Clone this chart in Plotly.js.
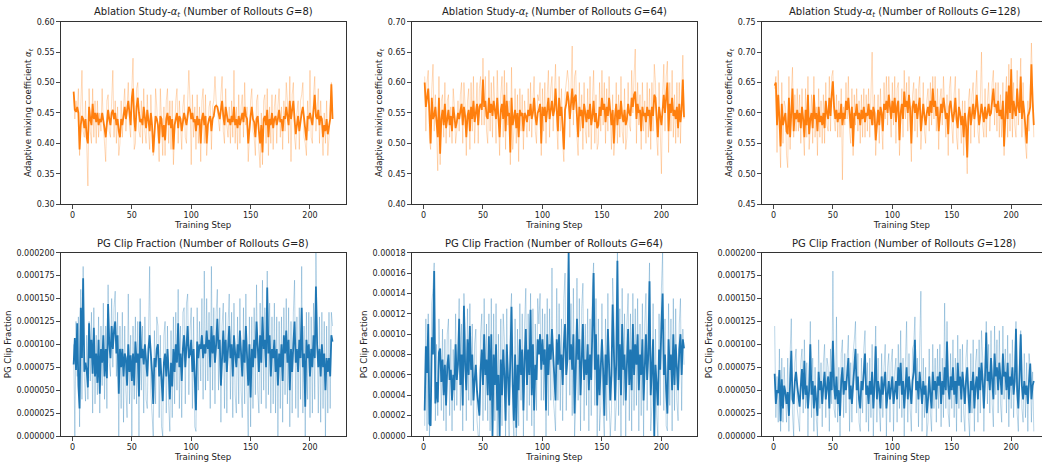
<!DOCTYPE html>
<html><head><meta charset="utf-8">
<script src="https://cdn.plot.ly/plotly-3.0.1.min.js"></script>
<style>html,body{margin:0;padding:0;background:#fff}#chart{width:1042px;height:464px}</style>
</head><body><div id="chart"></div><script>
// ---------- data (Training Step starts at 1) ----------
const xTickVals = [0, 50, 100, 150, 200];

const alphaG8_smooth = [0.485,0.455,0.452,0.46,0.45,0.39,0.43,0.445,0.44,0.425,0.44,0.41,0.40,0.46,0.44,0.43,0.465,0.44,0.45,0.435,
0.45,0.43,0.44,0.435,0.45,0.44,0.425,0.41,0.44,0.455,0.44,0.43,0.45,0.455,0.44,0.45,0.43,0.44,0.42,0.41,
0.44,0.43,0.445,0.46,0.44,0.455,0.47,0.45,0.43,0.475,0.49,0.44,0.42,0.46,0.475,0.45,0.435,0.44,0.43,0.46,
0.44,0.425,0.455,0.44,0.42,0.45,0.43,0.385,0.41,0.445,0.44,0.43,0.40,0.445,0.44,0.41,0.43,0.405,0.44,0.45,
0.43,0.445,0.425,0.44,0.39,0.43,0.44,0.45,0.425,0.445,0.44,0.42,0.435,0.45,0.44,0.43,0.445,0.46,0.455,0.44,
0.45,0.435,0.44,0.42,0.445,0.43,0.44,0.40,0.44,0.45,0.43,0.445,0.40,0.43,0.44,0.445,0.42,0.44,0.445,0.46,
0.462,0.46,0.45,0.44,0.455,0.47,0.445,0.43,0.46,0.445,0.435,0.44,0.43,0.445,0.435,0.46,0.43,0.44,0.425,0.445,
0.43,0.44,0.45,0.435,0.46,0.445,0.44,0.40,0.43,0.445,0.46,0.44,0.435,0.41,0.44,0.445,0.42,0.40,0.43,0.385,
0.44,0.445,0.43,0.455,0.41,0.44,0.43,0.45,0.425,0.44,0.445,0.43,0.44,0.455,0.435,0.44,0.42,0.445,0.44,0.46,
0.445,0.43,0.47,0.44,0.455,0.47,0.44,0.415,0.43,0.445,0.42,0.44,0.45,0.46,0.44,0.43,0.405,0.445,0.44,0.45,
0.44,0.43,0.455,0.48,0.445,0.44,0.455,0.43,0.445,0.44,0.41,0.43,0.42,0.44,0.415,0.425,0.44,0.497,0.44];

const alphaG8_raw = [0.48,0.44,0.47,0.45,0.49,0.38,0.46,0.52,0.42,0.41,0.47,0.39,0.33,0.49,0.42,0.40,0.49,0.41,0.47,0.40,
0.47,0.41,0.45,0.42,0.49,0.43,0.40,0.37,0.47,0.48,0.42,0.41,0.47,0.52,0.41,0.47,0.40,0.46,0.38,0.40,
0.47,0.41,0.46,0.49,0.42,0.47,0.50,0.43,0.41,0.49,0.54,0.39,0.40,0.49,0.50,0.42,0.41,0.47,0.40,0.49,
0.42,0.40,0.48,0.42,0.39,0.48,0.41,0.38,0.39,0.49,0.46,0.40,0.37,0.49,0.42,0.38,0.46,0.38,0.47,0.49,
0.40,0.47,0.39,0.47,0.365,0.42,0.47,0.49,0.40,0.47,0.42,0.39,0.46,0.48,0.41,0.40,0.47,0.52,0.47,0.365,
0.48,0.41,0.46,0.39,0.48,0.40,0.46,0.37,0.47,0.49,0.40,0.48,0.38,0.41,0.46,0.47,0.39,0.46,0.47,0.51,
0.47,0.45,0.43,0.42,0.48,0.51,0.42,0.40,0.49,0.43,0.41,0.46,0.40,0.47,0.41,0.52,0.40,0.46,0.39,0.48,
0.40,0.46,0.48,0.41,0.50,0.43,0.46,0.37,0.41,0.47,0.49,0.42,0.41,0.38,0.47,0.48,0.39,0.36,0.45,0.365,
0.47,0.48,0.40,0.49,0.38,0.46,0.40,0.48,0.39,0.46,0.48,0.40,0.46,0.49,0.41,0.46,0.39,0.47,0.42,0.50,
0.47,0.40,0.51,0.37,0.48,0.50,0.41,0.39,0.45,0.47,0.39,0.47,0.48,0.50,0.41,0.40,0.38,0.47,0.42,0.52,
0.41,0.40,0.48,0.51,0.42,0.46,0.49,0.40,0.47,0.42,0.38,0.45,0.40,0.47,0.38,0.41,0.46,0.50,0.44];

const alphaG64_smooth = [0.60,0.56,0.575,0.59,0.55,0.50,0.575,0.54,0.545,0.56,0.535,0.51,0.575,0.483,0.54,0.555,0.53,0.565,0.525,0.545,
0.555,0.53,0.545,0.52,0.56,0.545,0.525,0.535,0.55,0.54,0.55,0.565,0.53,0.56,0.545,0.51,0.545,0.555,0.52,0.56,
0.54,0.57,0.535,0.55,0.565,0.53,0.56,0.565,0.555,0.605,0.56,0.57,0.545,0.54,0.575,0.55,0.565,0.545,0.57,0.555,
0.54,0.575,0.545,0.51,0.555,0.565,0.54,0.58,0.52,0.57,0.545,0.55,0.485,0.575,0.53,0.54,0.555,0.525,0.55,0.51,
0.555,0.545,0.55,0.52,0.55,0.545,0.535,0.555,0.545,0.565,0.54,0.55,0.575,0.545,0.53,0.55,0.555,0.565,0.50,0.56,
0.545,0.56,0.535,0.555,0.575,0.54,0.56,0.57,0.545,0.555,0.59,0.56,0.52,0.575,0.545,0.56,0.53,0.49,0.555,0.565,
0.585,0.57,0.54,0.565,0.59,0.555,0.575,0.58,0.545,0.51,0.56,0.545,0.555,0.525,0.565,0.545,0.535,0.555,0.54,0.565,
0.53,0.545,0.57,0.535,0.55,0.525,0.53,0.56,0.545,0.575,0.555,0.565,0.535,0.56,0.545,0.575,0.55,0.53,0.555,0.50,
0.545,0.565,0.53,0.555,0.54,0.57,0.545,0.535,0.555,0.53,0.54,0.565,0.55,0.545,0.575,0.56,0.58,0.585,0.54,0.565,
0.55,0.555,0.52,0.56,0.545,0.55,0.535,0.56,0.545,0.555,0.52,0.56,0.545,0.58,0.575,0.55,0.51,0.56,0.545,0.53,
0.555,0.58,0.55,0.57,0.60,0.52,0.565,0.55,0.575,0.545,0.555,0.54,0.56,0.525,0.565,0.535,0.555,0.605,0.543];

const alphaG64_raw = [0.61,0.52,0.60,0.62,0.51,0.49,0.59,0.63,0.52,0.58,0.52,0.455,0.61,0.465,0.57,0.58,0.51,0.60,0.50,0.57,
0.58,0.51,0.56,0.50,0.59,0.56,0.50,0.52,0.57,0.52,0.58,0.60,0.50,0.60,0.56,0.48,0.57,0.59,0.49,0.60,
0.52,0.61,0.50,0.57,0.60,0.50,0.59,0.61,0.53,0.64,0.53,0.61,0.52,0.50,0.62,0.52,0.60,0.51,0.61,0.56,
0.50,0.62,0.52,0.48,0.58,0.61,0.51,0.62,0.49,0.60,0.53,0.57,0.465,0.625,0.49,0.52,0.59,0.50,0.58,0.47,
0.59,0.52,0.58,0.49,0.57,0.53,0.51,0.59,0.52,0.60,0.51,0.57,0.61,0.52,0.50,0.58,0.57,0.60,0.48,0.59,
0.52,0.60,0.50,0.58,0.62,0.51,0.59,0.61,0.52,0.58,0.63,0.53,0.49,0.61,0.52,0.59,0.50,0.47,0.58,0.60,
0.62,0.60,0.51,0.59,0.66,0.53,0.61,0.62,0.51,0.48,0.60,0.52,0.58,0.49,0.60,0.52,0.50,0.59,0.51,0.61,
0.49,0.57,0.62,0.50,0.58,0.49,0.50,0.60,0.52,0.62,0.53,0.60,0.50,0.59,0.52,0.61,0.53,0.49,0.58,0.48,
0.51,0.60,0.50,0.58,0.51,0.61,0.52,0.50,0.59,0.49,0.51,0.60,0.53,0.52,0.62,0.55,0.61,0.655,0.50,0.60,
0.53,0.58,0.49,0.60,0.52,0.57,0.50,0.60,0.51,0.59,0.49,0.60,0.52,0.63,0.60,0.51,0.48,0.60,0.52,0.45,
0.58,0.63,0.52,0.61,0.635,0.485,0.60,0.52,0.62,0.51,0.58,0.50,0.60,0.51,0.60,0.50,0.58,0.645,0.54];

const alphaG128_smooth = [0.645,0.65,0.58,0.63,0.59,0.545,0.615,0.58,0.59,0.60,0.57,0.565,0.625,0.56,0.60,0.64,0.57,0.60,0.59,0.605,
0.585,0.60,0.575,0.61,0.59,0.56,0.605,0.58,0.63,0.565,0.59,0.60,0.575,0.63,0.59,0.60,0.57,0.61,0.585,0.595,
0.58,0.60,0.575,0.62,0.60,0.59,0.625,0.595,0.63,0.652,0.61,0.59,0.605,0.585,0.60,0.59,0.615,0.58,0.60,0.59,
0.62,0.605,0.625,0.60,0.575,0.61,0.545,0.60,0.595,0.615,0.59,0.60,0.58,0.605,0.59,0.61,0.585,0.60,0.595,0.615,
0.59,0.605,0.58,0.61,0.60,0.555,0.59,0.605,0.58,0.61,0.60,0.57,0.615,0.605,0.62,0.60,0.63,0.61,0.59,0.62,
0.60,0.625,0.585,0.61,0.62,0.555,0.60,0.615,0.59,0.635,0.61,0.62,0.60,0.63,0.605,0.55,0.61,0.62,0.60,0.615,
0.59,0.61,0.625,0.57,0.60,0.615,0.595,0.58,0.60,0.61,0.595,0.62,0.60,0.64,0.61,0.62,0.595,0.61,0.57,0.60,
0.615,0.60,0.625,0.61,0.59,0.60,0.565,0.61,0.62,0.60,0.585,0.60,0.625,0.59,0.575,0.61,0.60,0.58,0.595,0.56,
0.60,0.58,0.527,0.595,0.61,0.58,0.60,0.615,0.59,0.605,0.63,0.60,0.58,0.595,0.615,0.60,0.585,0.61,0.59,0.60,
0.615,0.595,0.60,0.62,0.64,0.61,0.615,0.60,0.62,0.595,0.605,0.59,0.62,0.545,0.60,0.635,0.59,0.645,0.60,0.672,
0.59,0.62,0.605,0.595,0.64,0.61,0.60,0.66,0.59,0.62,0.60,0.57,0.55,0.595,0.60,0.61,0.68,0.62,0.58];

const alphaG128_raw = [0.64,0.66,0.535,0.67,0.57,0.51,0.65,0.55,0.62,0.61,0.53,0.51,0.66,0.54,0.63,0.675,0.56,0.63,0.57,0.64,
0.57,0.63,0.55,0.64,0.57,0.53,0.64,0.56,0.66,0.54,0.58,0.63,0.55,0.66,0.56,0.61,0.53,0.64,0.56,0.62,
0.55,0.63,0.55,0.65,0.58,0.57,0.66,0.57,0.66,0.67,0.59,0.57,0.63,0.56,0.62,0.56,0.64,0.49,0.61,0.58,
0.65,0.59,0.66,0.57,0.55,0.64,0.53,0.63,0.58,0.64,0.57,0.62,0.55,0.63,0.56,0.64,0.56,0.63,0.57,0.64,
0.56,0.63,0.70,0.58,0.63,0.53,0.58,0.63,0.55,0.64,0.58,0.54,0.65,0.59,0.66,0.58,0.66,0.59,0.56,0.65,
0.58,0.66,0.55,0.64,0.65,0.53,0.58,0.64,0.56,0.67,0.59,0.65,0.57,0.66,0.58,0.52,0.63,0.65,0.57,0.64,
0.56,0.64,0.66,0.54,0.58,0.65,0.57,0.55,0.62,0.64,0.57,0.65,0.58,0.66,0.59,0.66,0.57,0.64,0.54,0.62,
0.64,0.58,0.66,0.59,0.56,0.63,0.53,0.64,0.66,0.58,0.55,0.63,0.66,0.56,0.54,0.64,0.58,0.55,0.62,0.53,
0.62,0.55,0.50,0.62,0.64,0.55,0.63,0.65,0.56,0.63,0.67,0.57,0.55,0.62,0.70,0.58,0.56,0.64,0.56,0.62,
0.65,0.57,0.62,0.65,0.67,0.58,0.65,0.57,0.65,0.56,0.63,0.56,0.65,0.53,0.62,0.66,0.56,0.68,0.57,0.69,
0.56,0.65,0.58,0.56,0.67,0.58,0.62,0.69,0.56,0.65,0.57,0.54,0.525,0.62,0.57,0.64,0.715,0.64,0.56];

const clipG8_smooth = [7.8e-5,10.7e-5,7.2e-5,12.3e-5,5.5e-5,3.0e-5,14.0e-5,8.5e-5,17.2e-5,7.0e-5,8.0e-5,7.2e-5,5.3e-5,12.3e-5,8.5e-5,10.5e-5,6.8e-5,11.8e-5,6.5e-5,9.0e-5,
5.8e-5,10.5e-5,4.6e-5,9.5e-5,8.0e-5,11.0e-5,6.5e-5,9.5e-5,6.3e-5,14.4e-5,10.0e-5,8.5e-5,12.0e-5,9.5e-5,11.5e-5,12.5e-5,9.0e-5,11.0e-5,4.6e-5,9.5e-5,
7.5e-5,9.5e-5,6.5e-5,9.0e-5,8.5e-5,5.5e-5,10.0e-5,7.0e-5,8.8e-5,6.0e-5,9.0e-5,5.5e-5,10.3e-5,8.0e-5,9.0e-5,4.3e-5,12.5e-5,8.5e-5,9.5e-5,7.8e-5,
10.0e-5,8.0e-5,6.5e-5,9.5e-5,11.0e-5,9.0e-5,7.0e-5,3.5e-5,8.5e-5,7.5e-5,9.5e-5,10.0e-5,6.5e-5,8.5e-5,5.5e-5,3.8e-5,8.0e-5,9.0e-5,6.5e-5,9.5e-5,
7.0e-5,4.0e-5,8.0e-5,5.4e-5,9.5e-5,7.0e-5,10.0e-5,8.0e-5,12.3e-5,7.5e-5,9.0e-5,6.0e-5,9.5e-5,11.0e-5,7.5e-5,10.5e-5,12.0e-5,8.5e-5,9.0e-5,10.5e-5,
7.0e-5,9.5e-5,5.5e-5,2.8e-5,10.3e-5,8.5e-5,10.0e-5,9.5e-5,11.0e-5,8.5e-5,10.0e-5,9.0e-5,11.5e-5,9.5e-5,10.5e-5,7.5e-5,12.0e-5,9.0e-5,11.0e-5,8.0e-5,
10.0e-5,12.8e-5,9.5e-5,10.5e-5,5.5e-5,9.0e-5,11.5e-5,8.0e-5,10.5e-5,7.0e-5,9.5e-5,12.0e-5,8.5e-5,10.0e-5,6.5e-5,11.0e-5,9.0e-5,7.5e-5,10.0e-5,8.5e-5,
11.5e-5,9.0e-5,6.5e-5,10.5e-5,8.0e-5,12.0e-5,9.5e-5,5.5e-5,10.0e-5,4.2e-5,9.5e-5,7.5e-5,10.5e-5,8.5e-5,12.5e-5,9.0e-5,7.0e-5,11.0e-5,8.0e-5,13.0e-5,
9.5e-5,10.5e-5,7.5e-5,16.2e-5,9.0e-5,11.0e-5,6.5e-5,9.5e-5,8.5e-5,10.5e-5,7.0e-5,9.5e-5,5.5e-5,9.0e-5,7.5e-5,10.0e-5,6.0e-5,11.0e-5,9.0e-5,11.5e-5,
8.0e-5,10.5e-5,5.0e-5,9.5e-5,7.0e-5,10.0e-5,12.5e-5,8.0e-5,9.5e-5,7.0e-5,10.5e-5,8.5e-5,14.0e-5,7.5e-5,9.0e-5,3.2e-5,10.5e-5,8.5e-5,10.0e-5,6.5e-5,
9.5e-5,7.5e-5,11.0e-5,8.5e-5,16.3e-5,10.0e-5,7.5e-5,9.5e-5,6.5e-5,10.0e-5,7.5e-5,9.0e-5,5.0e-5,8.5e-5,7.0e-5,8.5e-5,6.5e-5,11.0e-5,10.3e-5];

const clipG8_raw = [10.0e-5,0,12.5e-5,6.5e-5,13.0e-5,1.0e-5,16.0e-5,4.0e-5,18.5e-5,6.5e-5,3.8e-5,11.0e-5,4.0e-5,12.5e-5,6.0e-5,13.5e-5,2.5e-5,14.0e-5,3.5e-5,11.0e-5,
4.5e-5,13.0e-5,2.5e-5,12.0e-5,5.5e-5,14.5e-5,4.0e-5,12.0e-5,3.0e-5,16.5e-5,8.0e-5,6.5e-5,15.0e-5,7.5e-5,14.0e-5,15.8e-5,6.5e-5,13.5e-5,0,12.0e-5,
3.0e-5,13.5e-5,1.5e-5,12.0e-5,5.0e-5,2.0e-5,15.5e-5,3.5e-5,11.0e-5,0,12.0e-5,4.0e-5,13.0e-5,3.5e-5,12.5e-5,0,15.0e-5,5.0e-5,12.0e-5,2.5e-5,
13.0e-5,4.0e-5,3.0e-5,12.0e-5,18.5e-5,5.0e-5,1.5e-5,0,11.5e-5,3.5e-5,13.0e-5,12.0e-5,2.0e-5,11.0e-5,1.0e-5,0,11.0e-5,12.5e-5,2.5e-5,12.0e-5,
3.5e-5,0.5e-5,11.5e-5,2.0e-5,13.0e-5,3.5e-5,13.5e-5,5.0e-5,16.0e-5,3.0e-5,12.0e-5,2.0e-5,13.5e-5,14.0e-5,3.5e-5,14.5e-5,15.5e-5,4.5e-5,11.5e-5,14.0e-5,
3.0e-5,13.0e-5,1.0e-5,0.5e-5,14.0e-5,5.0e-5,12.5e-5,6.0e-5,15.0e-5,4.0e-5,18.0e-5,5.0e-5,15.0e-5,6.0e-5,13.5e-5,3.0e-5,18.5e-5,5.0e-5,14.0e-5,3.5e-5,
13.5e-5,16.0e-5,5.0e-5,14.0e-5,1.5e-5,12.0e-5,14.5e-5,3.0e-5,13.5e-5,2.5e-5,12.0e-5,15.5e-5,4.0e-5,13.5e-5,2.0e-5,14.5e-5,4.5e-5,2.5e-5,13.0e-5,3.5e-5,
15.0e-5,5.0e-5,2.0e-5,14.0e-5,3.5e-5,15.5e-5,5.0e-5,0,13.0e-5,1.0e-5,13.0e-5,3.0e-5,14.0e-5,4.5e-5,16.5e-5,5.0e-5,2.5e-5,14.5e-5,3.5e-5,17.0e-5,
5.0e-5,14.0e-5,3.0e-5,18.0e-5,4.5e-5,14.5e-5,2.5e-5,13.0e-5,3.5e-5,14.5e-5,2.5e-5,13.0e-5,0,12.5e-5,3.0e-5,13.0e-5,1.5e-5,14.0e-5,4.5e-5,15.0e-5,
3.5e-5,14.0e-5,1.0e-5,12.5e-5,2.5e-5,13.5e-5,17.0e-5,3.0e-5,13.0e-5,2.0e-5,14.0e-5,4.0e-5,18.5e-5,2.5e-5,12.0e-5,0,13.5e-5,4.0e-5,13.5e-5,2.0e-5,
13.0e-5,2.5e-5,14.5e-5,4.0e-5,20.0e-5,12.5e-5,2.5e-5,13.0e-5,1.5e-5,13.5e-5,3.0e-5,12.5e-5,0,12.0e-5,2.5e-5,13.5e-5,3.0e-5,13.5e-5,12.0e-5];

const clipG64_smooth = [2.5e-5,8.8e-5,6.2e-5,11.0e-5,1.2e-5,1.0e-5,9.7e-5,8.0e-5,16.2e-5,3.2e-5,5.3e-5,3.3e-5,8.2e-5,8.6e-5,5.3e-5,7.5e-5,4.0e-5,7.0e-5,3.0e-5,6.8e-5,
8.0e-5,5.5e-5,6.5e-5,3.5e-5,6.0e-5,4.5e-5,9.0e-5,5.5e-5,7.0e-5,11.5e-5,5.0e-5,8.0e-5,3.0e-5,12.8e-5,7.0e-5,4.5e-5,9.5e-5,6.0e-5,10.8e-5,6.5e-5,
8.0e-5,3.5e-5,5.5e-5,7.0e-5,4.4e-5,3.0e-5,2.0e-5,6.5e-5,8.5e-5,5.0e-5,10.0e-5,6.0e-5,7.5e-5,4.0e-5,9.8e-5,3.5e-5,10.0e-5,0,8.0e-5,5.0e-5,
9.0e-5,2.5e-5,6.0e-5,0,7.5e-5,4.0e-5,8.5e-5,6.0e-5,1.5e-5,9.0e-5,6.5e-5,3.0e-5,7.5e-5,12.7e-5,5.0e-5,1.5e-5,8.0e-5,0.8e-5,7.0e-5,4.5e-5,
9.5e-5,6.0e-5,8.5e-5,2.5e-5,7.5e-5,10.5e-5,5.0e-5,8.5e-5,6.0e-5,12.4e-5,4.0e-5,9.0e-5,2.5e-5,7.0e-5,5.5e-5,9.5e-5,8.0e-5,10.0e-5,6.5e-5,9.5e-5,
7.0e-5,8.5e-5,2.5e-5,10.0e-5,6.0e-5,9.0e-5,7.5e-5,10.5e-5,8.0e-5,6.0e-5,3.5e-5,9.5e-5,7.0e-5,10.0e-5,6.5e-5,8.0e-5,5.0e-5,9.0e-5,11.0e-5,6.0e-5,
7.5e-5,18.0e-5,7.5e-5,9.0e-5,6.5e-5,10.0e-5,2.2e-5,6.5e-5,11.5e-5,7.5e-5,9.5e-5,4.0e-5,8.5e-5,11.0e-5,5.5e-5,7.5e-5,6.0e-5,9.0e-5,4.5e-5,8.0e-5,
5.5e-5,11.0e-5,16.0e-5,6.5e-5,10.0e-5,3.0e-5,8.0e-5,4.0e-5,7.0e-5,9.5e-5,6.5e-5,2.0e-5,8.0e-5,5.0e-5,10.5e-5,7.5e-5,3.5e-5,6.0e-5,12.9e-5,8.5e-5,
3.5e-5,7.0e-5,17.2e-5,5.5e-5,9.0e-5,4.0e-5,11.0e-5,6.5e-5,8.0e-5,3.5e-5,7.5e-5,10.5e-5,5.0e-5,8.5e-5,4.5e-5,11.0e-5,6.0e-5,9.0e-5,7.0e-5,10.0e-5,
4.5e-5,8.0e-5,6.0e-5,9.5e-5,3.5e-5,7.5e-5,10.0e-5,5.5e-5,8.0e-5,15.2e-5,4.0e-5,6.5e-5,9.5e-5,0,7.0e-5,5.0e-5,3.0e-5,8.5e-5,6.5e-5,11.0e-5,
14.0e-5,6.0e-5,8.0e-5,4.5e-5,2.2e-5,9.5e-5,6.5e-5,8.0e-5,4.5e-5,10.0e-5,5.0e-5,9.0e-5,7.0e-5,4.5e-5,8.5e-5,10.0e-5,6.0e-5,9.5e-5,8.6e-5];

const clipG64_raw = [1.0e-5,11.5e-5,0.5e-5,12.0e-5,0,3.5e-5,13.0e-5,14.5e-5,17.0e-5,1.5e-5,9.0e-5,2.0e-5,11.5e-5,5.5e-5,2.5e-5,10.5e-5,1.5e-5,9.5e-5,0.5e-5,10.0e-5,
11.5e-5,2.0e-5,9.5e-5,0.5e-5,8.5e-5,2.5e-5,12.0e-5,3.0e-5,10.5e-5,13.5e-5,2.5e-5,11.0e-5,0.5e-5,14.0e-5,10.0e-5,1.5e-5,12.5e-5,3.5e-5,13.0e-5,3.0e-5,
11.0e-5,0.5e-5,9.0e-5,10.5e-5,1.5e-5,0,0,10.0e-5,12.0e-5,1.5e-5,13.5e-5,2.5e-5,11.0e-5,1.5e-5,12.0e-5,0.5e-5,13.5e-5,0,12.0e-5,1.5e-5,
13.0e-5,0,10.0e-5,0,11.5e-5,1.0e-5,12.0e-5,9.5e-5,0,12.5e-5,4.0e-5,0,11.5e-5,14.0e-5,2.0e-5,0,11.5e-5,0,10.5e-5,1.0e-5,
13.0e-5,3.5e-5,12.0e-5,0,11.0e-5,14.5e-5,1.5e-5,12.0e-5,3.0e-5,14.0e-5,1.0e-5,12.5e-5,0,11.0e-5,2.5e-5,13.5e-5,11.0e-5,14.0e-5,3.5e-5,12.5e-5,
3.5e-5,12.0e-5,0,13.5e-5,2.0e-5,12.5e-5,3.5e-5,16.5e-5,4.0e-5,2.0e-5,0.5e-5,14.5e-5,3.5e-5,13.0e-5,2.5e-5,11.5e-5,1.5e-5,13.5e-5,16.0e-5,2.5e-5,
11.0e-5,18.0e-5,4.0e-5,13.0e-5,2.0e-5,14.5e-5,0,3.0e-5,15.5e-5,3.5e-5,13.5e-5,0.5e-5,12.5e-5,15.0e-5,1.5e-5,11.0e-5,3.0e-5,12.5e-5,0.5e-5,11.5e-5,
2.0e-5,14.5e-5,17.0e-5,3.0e-5,13.5e-5,0,11.5e-5,0.5e-5,3.0e-5,13.0e-5,2.5e-5,0,11.5e-5,1.5e-5,14.0e-5,3.5e-5,0,2.5e-5,15.5e-5,12.0e-5,
0.5e-5,3.0e-5,18.0e-5,2.0e-5,12.5e-5,0,14.5e-5,3.0e-5,12.0e-5,0,11.0e-5,14.0e-5,1.5e-5,12.0e-5,0.5e-5,14.0e-5,2.5e-5,12.5e-5,3.0e-5,13.5e-5,
0.5e-5,11.0e-5,2.0e-5,13.0e-5,0,11.0e-5,14.0e-5,2.5e-5,11.5e-5,17.0e-5,0.5e-5,3.0e-5,13.0e-5,0,10.5e-5,2.0e-5,0,12.0e-5,3.0e-5,14.5e-5,
18.0e-5,2.5e-5,11.5e-5,1.0e-5,0.5e-5,13.0e-5,3.0e-5,11.5e-5,0.5e-5,13.5e-5,2.5e-5,12.5e-5,3.5e-5,1.5e-5,11.0e-5,13.5e-5,2.5e-5,10.5e-5,7.0e-5];

const clipG128_smooth = [6.8e-5,3.5e-5,5.0e-5,4.7e-5,7.2e-5,1.6e-5,6.2e-5,3.0e-5,5.5e-5,4.8e-5,3.5e-5,4.8e-5,2.2e-5,6.0e-5,9.3e-5,4.0e-5,3.5e-5,6.0e-5,7.0e-5,5.5e-5,
4.5e-5,3.2e-5,5.5e-5,7.3e-5,4.0e-5,8.2e-5,4.5e-5,5.5e-5,3.0e-5,5.0e-5,10.0e-5,4.5e-5,6.0e-5,3.0e-5,5.5e-5,4.0e-5,2.2e-5,7.0e-5,5.0e-5,6.0e-5,
3.5e-5,5.5e-5,7.0e-5,4.0e-5,5.5e-5,6.5e-5,3.0e-5,7.0e-5,5.0e-5,10.4e-5,5.5e-5,4.0e-5,6.5e-5,3.5e-5,5.0e-5,2.2e-5,6.0e-5,7.5e-5,4.5e-5,6.0e-5,
5.0e-5,6.5e-5,8.5e-5,4.0e-5,5.5e-5,3.5e-5,6.0e-5,8.0e-5,9.5e-5,5.0e-5,6.5e-5,4.0e-5,3.0e-5,6.0e-5,5.0e-5,7.0e-5,9.0e-5,4.5e-5,5.5e-5,3.5e-5,
6.0e-5,4.5e-5,7.0e-5,3.0e-5,5.5e-5,9.8e-5,4.0e-5,6.0e-5,5.0e-5,3.0e-5,6.5e-5,4.5e-5,5.5e-5,7.0e-5,3.0e-5,5.0e-5,6.0e-5,4.0e-5,5.5e-5,6.5e-5,
3.5e-5,5.0e-5,6.0e-5,4.0e-5,7.5e-5,5.5e-5,8.0e-5,4.5e-5,6.0e-5,3.0e-5,5.5e-5,7.5e-5,4.0e-5,6.5e-5,5.0e-5,3.5e-5,6.0e-5,7.0e-5,10.5e-5,5.0e-5,
6.0e-5,4.0e-5,7.0e-5,5.0e-5,3.5e-5,6.0e-5,4.5e-5,5.5e-5,2.5e-5,4.0e-5,6.5e-5,4.5e-5,3.0e-5,7.0e-5,5.0e-5,6.0e-5,4.0e-5,6.5e-5,5.5e-5,7.0e-5,
3.5e-5,6.0e-5,4.5e-5,7.5e-5,5.0e-5,10.3e-5,5.5e-5,4.0e-5,6.5e-5,5.0e-5,7.5e-5,4.5e-5,6.0e-5,3.5e-5,8.0e-5,5.5e-5,6.5e-5,4.0e-5,7.0e-5,5.5e-5,
3.5e-5,6.0e-5,7.5e-5,4.5e-5,2.5e-5,6.0e-5,5.0e-5,7.0e-5,3.0e-5,5.5e-5,6.5e-5,4.0e-5,7.5e-5,5.0e-5,8.0e-5,6.0e-5,3.0e-5,6.5e-5,11.3e-5,6.0e-5,
7.0e-5,5.0e-5,8.5e-5,6.0e-5,4.0e-5,9.0e-5,6.5e-5,7.5e-5,5.0e-5,8.0e-5,6.0e-5,4.5e-5,9.0e-5,6.5e-5,7.0e-5,5.0e-5,8.0e-5,4.0e-5,6.5e-5,5.5e-5,
7.5e-5,4.5e-5,6.0e-5,11.7e-5,5.0e-5,3.0e-5,6.5e-5,11.1e-5,5.5e-5,4.0e-5,6.0e-5,4.5e-5,5.5e-5,3.5e-5,6.0e-5,7.9e-5,4.0e-5,5.5e-5,6.0e-5];

const clipG128_raw = [12.0e-5,2.0e-5,6.5e-5,1.5e-5,9.5e-5,0.5e-5,8.5e-5,1.5e-5,7.5e-5,3.5e-5,1.5e-5,8.5e-5,0.5e-5,9.0e-5,12.8e-5,2.5e-5,0,8.0e-5,9.5e-5,3.0e-5,
2.0e-5,0.5e-5,8.0e-5,9.5e-5,2.5e-5,10.5e-5,3.0e-5,8.0e-5,0,6.5e-5,12.5e-5,2.0e-5,8.5e-5,0.5e-5,7.5e-5,2.0e-5,0,10.5e-5,3.0e-5,8.0e-5,
1.0e-5,8.0e-5,10.0e-5,2.0e-5,8.5e-5,7.5e-5,0.5e-5,9.5e-5,3.5e-5,18.0e-5,3.0e-5,2.0e-5,13.0e-5,1.5e-5,7.5e-5,0,9.0e-5,10.5e-5,2.0e-5,9.0e-5,
2.5e-5,8.5e-5,11.0e-5,0.5e-5,8.0e-5,1.5e-5,9.0e-5,10.5e-5,12.5e-5,2.5e-5,9.0e-5,1.5e-5,0.5e-5,8.5e-5,2.5e-5,9.5e-5,11.5e-5,1.5e-5,8.0e-5,0.5e-5,
8.5e-5,2.0e-5,10.0e-5,0,7.5e-5,12.0e-5,1.5e-5,8.5e-5,3.0e-5,0.5e-5,9.0e-5,2.0e-5,7.5e-5,10.0e-5,0,7.5e-5,9.0e-5,1.5e-5,8.0e-5,9.5e-5,
0.5e-5,7.0e-5,8.5e-5,1.5e-5,10.0e-5,3.0e-5,11.5e-5,2.0e-5,8.5e-5,0,8.0e-5,12.5e-5,1.5e-5,9.0e-5,3.0e-5,0.5e-5,9.5e-5,10.0e-5,13.0e-5,2.5e-5,
8.5e-5,1.0e-5,9.5e-5,15.8e-5,0.5e-5,8.5e-5,2.0e-5,7.5e-5,0,1.5e-5,9.5e-5,2.5e-5,0.5e-5,10.0e-5,3.0e-5,8.5e-5,1.5e-5,9.5e-5,3.0e-5,10.0e-5,
1.0e-5,8.5e-5,2.0e-5,14.5e-5,3.0e-5,12.5e-5,2.5e-5,1.0e-5,9.0e-5,3.0e-5,10.5e-5,2.0e-5,8.5e-5,0.5e-5,11.0e-5,3.0e-5,9.5e-5,1.5e-5,10.0e-5,2.5e-5,
0.5e-5,8.5e-5,10.5e-5,2.0e-5,0,9.0e-5,2.5e-5,10.5e-5,0.5e-5,8.0e-5,9.5e-5,1.5e-5,10.5e-5,2.5e-5,11.5e-5,8.5e-5,0.5e-5,9.0e-5,12.5e-5,3.5e-5,
10.0e-5,2.5e-5,11.5e-5,3.5e-5,1.0e-5,12.0e-5,4.5e-5,10.5e-5,2.5e-5,11.5e-5,3.5e-5,1.5e-5,12.0e-5,4.0e-5,9.5e-5,2.5e-5,11.0e-5,1.0e-5,9.0e-5,3.0e-5,
10.5e-5,2.0e-5,8.5e-5,12.5e-5,2.5e-5,0.5e-5,9.0e-5,11.5e-5,3.0e-5,1.5e-5,9.0e-5,2.0e-5,8.0e-5,0.5e-5,9.0e-5,7.5e-5,1.5e-5,7.0e-5,0.5e-5];

const panelTitles = [
  'Ablation Study-<i>α</i><sub><i>t</i></sub> (Number of Rollouts <i>G</i>=8)',
  'Ablation Study-<i>α</i><sub><i>t</i></sub> (Number of Rollouts <i>G</i>=64)',
  'Ablation Study-<i>α</i><sub><i>t</i></sub> (Number of Rollouts <i>G</i>=128)',
  'PG Clip Fraction (Number of Rollouts <i>G</i>=8)',
  'PG Clip Fraction (Number of Rollouts <i>G</i>=64)',
  'PG Clip Fraction (Number of Rollouts <i>G</i>=128)'
];
const yTitleTop = 'Adaptive mixing coefficient <i>α</i><sub><i>t</i></sub>';
const yTitleBottom = 'PG Clip Fraction';
const xTitle = 'Training Step';

// ---------- styling / layout ----------
const W = 1042, H = 464;
const FONT = 'DejaVu Sans, Arial, sans-serif';
const ORANGE = '#ff7f0e', ORANGE_L = 'rgba(255,127,14,0.28)';
const BLUE = '#1f77b4', BLUE_L = 'rgba(31,119,180,0.30)';
const AX = '#333333';
const TXT = '#222222';

const panels = [
  {raw: alphaG8_raw,  sm: alphaG8_smooth,  c: ORANGE, cl: ORANGE_L, yr: [0.30, 0.60], dt: 0.05, fmt: '.2f', px: [60.7, 345.5], py: [21.7, 204.2], xr: [-9.9, 229.9], mir: true, yt: yTitleTop},
  {raw: alphaG64_raw, sm: alphaG64_smooth, c: ORANGE, cl: ORANGE_L, yr: [0.40, 0.70], dt: 0.05, fmt: '.2f', px: [411.7, 697.0], py: [21.7, 204.2], xr: [-9.9, 229.9], mir: true, yt: yTitleTop},
  {raw: alphaG128_raw,sm: alphaG128_smooth,c: ORANGE, cl: ORANGE_L, yr: [0.45, 0.75], dt: 0.05, fmt: '.2f', px: [761.7, 1042], py: [21.7, 204.2], xr: [-9.9, 225.9], mir: false, yt: yTitleTop, tc: 904.2},
  {raw: clipG8_raw,   sm: clipG8_smooth,   c: BLUE, cl: BLUE_L, yr: [0, 0.0002], dt: 0.000025, fmt: '.6f', px: [60.7, 345.5], py: [252.7, 436], xr: [-9.9, 229.9], mir: true, yt: yTitleBottom},
  {raw: clipG64_raw,  sm: clipG64_smooth,  c: BLUE, cl: BLUE_L, yr: [0, 0.00018], dt: 0.00002, fmt: '.5f', px: [411.7, 697.0], py: [252.7, 436], xr: [-9.9, 229.9], mir: true, yt: yTitleBottom},
  {raw: clipG128_raw, sm: clipG128_smooth, c: BLUE, cl: BLUE_L, yr: [0, 0.0002], dt: 0.000025, fmt: '.6f', px: [761.7, 1042], py: [252.7, 436], xr: [-9.9, 225.9], mir: false, yt: yTitleBottom, tc: 904.2}
];

const traces = [];
const layout = {
  width: W, height: H, margin: {l: 0, r: 0, t: 0, b: 0},
  paper_bgcolor: '#ffffff', plot_bgcolor: '#ffffff',
  showlegend: false, font: {family: FONT, size: 8, color: TXT},
  annotations: []
};

panels.forEach((p, i) => {
  const n = i + 1;
  const xa = n === 1 ? 'x' : 'x' + n, ya = n === 1 ? 'y' : 'y' + n;
  const stepsRaw = p.raw.map((_, k) => k + 1);
  const stepsSm = p.sm.map((_, k) => k + 1);
  traces.push({x: stepsRaw, y: p.raw, xaxis: xa, yaxis: ya, type: 'scatter', mode: 'lines',
               line: {color: p.cl, width: 1}, hoverinfo: 'skip'});
  traces.push({x: stepsSm, y: p.sm, xaxis: xa, yaxis: ya, type: 'scatter', mode: 'lines',
               line: {color: p.c, width: 1.8}, hoverinfo: 'skip'});
  const xd = [p.px[0] / W, p.px[1] / W];
  const yd = [1 - p.py[1] / H, 1 - p.py[0] / H];
  layout['xaxis' + (n === 1 ? '' : n)] = {
    domain: xd, anchor: ya, range: p.xr, tickvals: xTickVals, ticks: 'outside', ticklen: 3.5,
    tickwidth: 0.9, tickcolor: AX, showline: true, linecolor: AX, linewidth: 1, mirror: true,
    showgrid: false, zeroline: false, tickfont: {family: FONT, size: 8, color: TXT}, fixedrange: true,
    title: {text: xTitle, standoff: 2, font: {family: FONT, size: 8.6, color: TXT}}
  };
  layout['yaxis' + (n === 1 ? '' : n)] = {
    domain: yd, anchor: xa, range: p.yr, tick0: p.yr[0], dtick: p.dt, tickformat: p.fmt, ticks: 'outside',
    ticklen: 3.5, tickwidth: 0.9, tickcolor: AX, showline: true, linecolor: AX, linewidth: 1, mirror: p.mir,
    showgrid: false, zeroline: false, tickfont: {family: FONT, size: 8, color: TXT}, fixedrange: true,
    title: {text: p.yt, standoff: 3, font: {family: FONT, size: 8.6, color: TXT}}
  };
  const cx = (p.tc !== undefined ? p.tc : (p.px[0] + p.px[1]) / 2) / W;
  layout.annotations.push({xref: 'paper', yref: 'paper', x: cx, y: 1 - (p.py[0] - 9.5) / H, text: panelTitles[i],
    showarrow: false, xanchor: 'center', yanchor: 'middle', font: {family: FONT, size: 10, color: TXT}});
});

Plotly.newPlot('chart', traces, layout, {staticPlot: true, displayModeBar: false});
</script></body></html>
